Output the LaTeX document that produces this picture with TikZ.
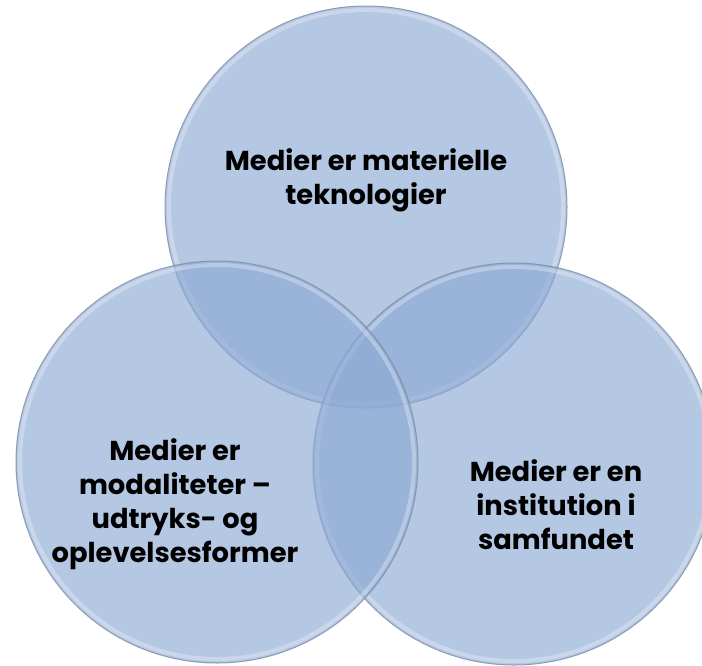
\documentclass[tikz,border=0pt]{standalone}
\usepackage{fontspec}
\setmainfont{Poppins}
\definecolor{vennfill}{RGB}{141,169,212}
\definecolor{vennrim}{RGB}{122,140,166}
\tikzset{every picture/.style={line width=0.75pt}}
\tikzset{
  venn/.style={fill=vennfill, fill opacity=0.65, draw=vennrim, draw opacity=0.8},
  vennglow/.style={draw=white, draw opacity=0.3, line width=3pt},
  venntext/.style={align=center, font=\fontsize{20.5}{25.5}\selectfont\bfseries, text=black}
}

\begin{document}
\begin{tikzpicture}[x=0.75pt,y=0.75pt,yscale=-1,xscale=1]
\path[use as bounding box, fill=white] (0,0) rectangle (702,665);

% Circles
\draw[venn] (366,207) circle (201);
\draw[vennglow] (366,207) circle (197);
\draw[venn] (514,464) circle (201);
\draw[vennglow] (514,464) circle (197);
\draw[venn] (217,462) circle (201);
\draw[vennglow] (217,462) circle (197);

% Text Node
\node[venntext] (tek) at (366,180) {Medier er materielle\\teknologier};
% Text Node
\node[venntext] (mod) at (175,504) {Medier er\\modaliteter –\\udtryks- og\\oplevelsesformer};
% Text Node
\node[venntext] (inst) at (556,505) {Medier er en\\institution i\\samfundet};

\end{tikzpicture}
\end{document}
